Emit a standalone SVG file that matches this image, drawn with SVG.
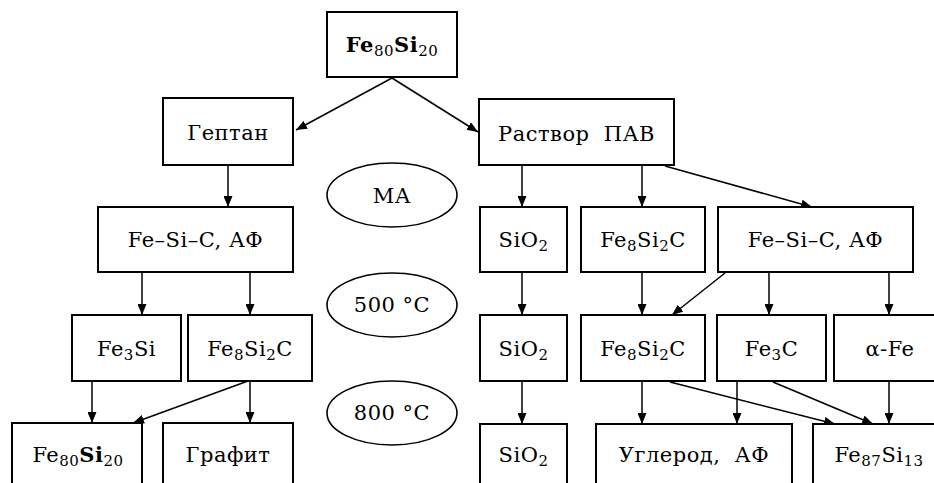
<svg xmlns="http://www.w3.org/2000/svg" width="934" height="483" viewBox="0 0 934 483">
<style>
.box{fill:#fff;stroke:#000;stroke-width:2}
.ell{fill:#fff;stroke:#000;stroke-width:1.6}
text{font-family:'DejaVu Serif',serif;font-size:21px;letter-spacing:0.5px;fill:#000;text-anchor:middle}
.b{font-weight:bold}
.s{font-size:15px}
.con line{stroke:#000;stroke-width:1.5;marker-end:url(#ah)}
</style>
<defs>
<marker id="ah" markerUnits="userSpaceOnUse" markerWidth="11" markerHeight="9" refX="11" refY="4.5" orient="auto">
<path d="M0,0 L11,4.5 L0,9 z" fill="#000"/>
</marker>
</defs>
<rect width="934" height="483" fill="#fff"/>
<g id="connectors" class="con">
<line x1="392" y1="78" x2="296" y2="130"/>
<line x1="392" y1="78" x2="478" y2="132"/>
<line x1="228" y1="165" x2="228" y2="207"/>
<line x1="522" y1="165" x2="522" y2="207"/>
<line x1="642" y1="165" x2="642" y2="207"/>
<line x1="665" y1="166" x2="812" y2="207"/>
<line x1="142" y1="272" x2="142" y2="315"/>
<line x1="250" y1="272" x2="250" y2="315"/>
<line x1="92" y1="381" x2="92" y2="423"/>
<line x1="248" y1="381" x2="133" y2="423"/>
<line x1="250" y1="381" x2="250" y2="423"/>
<line x1="522" y1="272" x2="522" y2="315"/>
<line x1="522" y1="381" x2="522" y2="424"/>
<line x1="642" y1="272" x2="642" y2="315"/>
<line x1="725" y1="273" x2="672" y2="315"/>
<line x1="769" y1="272" x2="769" y2="315"/>
<line x1="889" y1="272" x2="889" y2="315"/>
<line x1="642" y1="381" x2="642" y2="424"/>
<line x1="737" y1="381" x2="737" y2="424"/>
<line x1="670" y1="382" x2="835" y2="424"/>
<line x1="773" y1="382" x2="873" y2="424"/>
<line x1="889" y1="381" x2="889" y2="424"/>
</g>
<g id="n1"><rect class="box" x="327" y="12" width="130" height="65"/><text x="392" y="52"><tspan class="b">Fe</tspan><tspan class="s" dy="4">80</tspan><tspan class="b" dy="-4">Si</tspan><tspan class="s" dy="4">20</tspan></text></g>
<g id="n2"><rect class="box" x="163" y="98" width="130" height="67"/><text x="228" y="140">Гептан</text></g>
<g id="n3"><rect class="box" x="479" y="99" width="195" height="66"/><text x="576.5" y="141" xml:space="preserve">Раствор  ПАВ</text></g>
<g id="e1"><ellipse class="ell" cx="392" cy="195" rx="65" ry="32"/><text x="392" y="203">МА</text></g>
<g id="e2"><ellipse class="ell" cx="392" cy="305" rx="65" ry="32"/><text x="392" y="312">500 °C</text></g>
<g id="e3"><ellipse class="ell" cx="392" cy="413" rx="65" ry="32"/><text x="392" y="420">800 °C</text></g>
<g id="n4"><rect class="box" x="98" y="207" width="195" height="65"/><text x="195.5" y="247">Fe–Si–C, АФ</text></g>
<g id="n5"><rect class="box" x="480" y="207" width="87" height="65"/><text x="523.5" y="247">SiO<tspan class="s" dy="4">2</tspan></text></g>
<g id="n6"><rect class="box" x="581" y="207" width="124" height="65"/><text x="643" y="247">Fe<tspan class="s" dy="4">8</tspan><tspan dy="-4">Si</tspan><tspan class="s" dy="4">2</tspan><tspan dy="-4">C</tspan></text></g>
<g id="n7"><rect class="box" x="718" y="207" width="195" height="65"/><text x="815.5" y="247">Fe–Si–C, АФ</text></g>
<g id="n8"><rect class="box" x="72" y="315" width="109" height="66"/><text x="126.5" y="356">Fe<tspan class="s" dy="4">3</tspan><tspan dy="-4">Si</tspan></text></g>
<g id="n9"><rect class="box" x="188" y="315" width="124" height="66"/><text x="250" y="356">Fe<tspan class="s" dy="4">8</tspan><tspan dy="-4">Si</tspan><tspan class="s" dy="4">2</tspan><tspan dy="-4">C</tspan></text></g>
<g id="n10"><rect class="box" x="480" y="315" width="87" height="66"/><text x="523.5" y="356">SiO<tspan class="s" dy="4">2</tspan></text></g>
<g id="n11"><rect class="box" x="581" y="315" width="124" height="66"/><text x="643" y="356">Fe<tspan class="s" dy="4">8</tspan><tspan dy="-4">Si</tspan><tspan class="s" dy="4">2</tspan><tspan dy="-4">C</tspan></text></g>
<g id="n12"><rect class="box" x="717" y="315" width="109" height="66"/><text x="771.5" y="356">Fe<tspan class="s" dy="4">3</tspan><tspan dy="-4">C</tspan></text></g>
<g id="n13"><rect class="box" x="834" y="315" width="112" height="66"/><text x="890" y="356">α-Fe</text></g>
<g id="n14"><rect class="box" x="12" y="423" width="130" height="80"/><text x="78" y="462">Fe<tspan class="s" dy="4">80</tspan><tspan class="b" dy="-4">Si</tspan><tspan class="s" dy="4">20</tspan></text></g>
<g id="n15"><rect class="box" x="163" y="423" width="130" height="80"/><text x="228" y="462">Графит</text></g>
<g id="n16"><rect class="box" x="480" y="424" width="87" height="80"/><text x="523.5" y="462">SiO<tspan class="s" dy="4">2</tspan></text></g>
<g id="n17"><rect class="box" x="596" y="424" width="196" height="80"/><text x="694" y="462" xml:space="preserve">Углерод,  АФ</text></g>
<g id="n18"><rect class="box" x="813" y="424" width="140" height="80"/><text x="879" y="462">Fe<tspan class="s" dy="4">87</tspan><tspan dy="-4">Si</tspan><tspan class="s" dy="4">13</tspan></text></g>
</svg>
